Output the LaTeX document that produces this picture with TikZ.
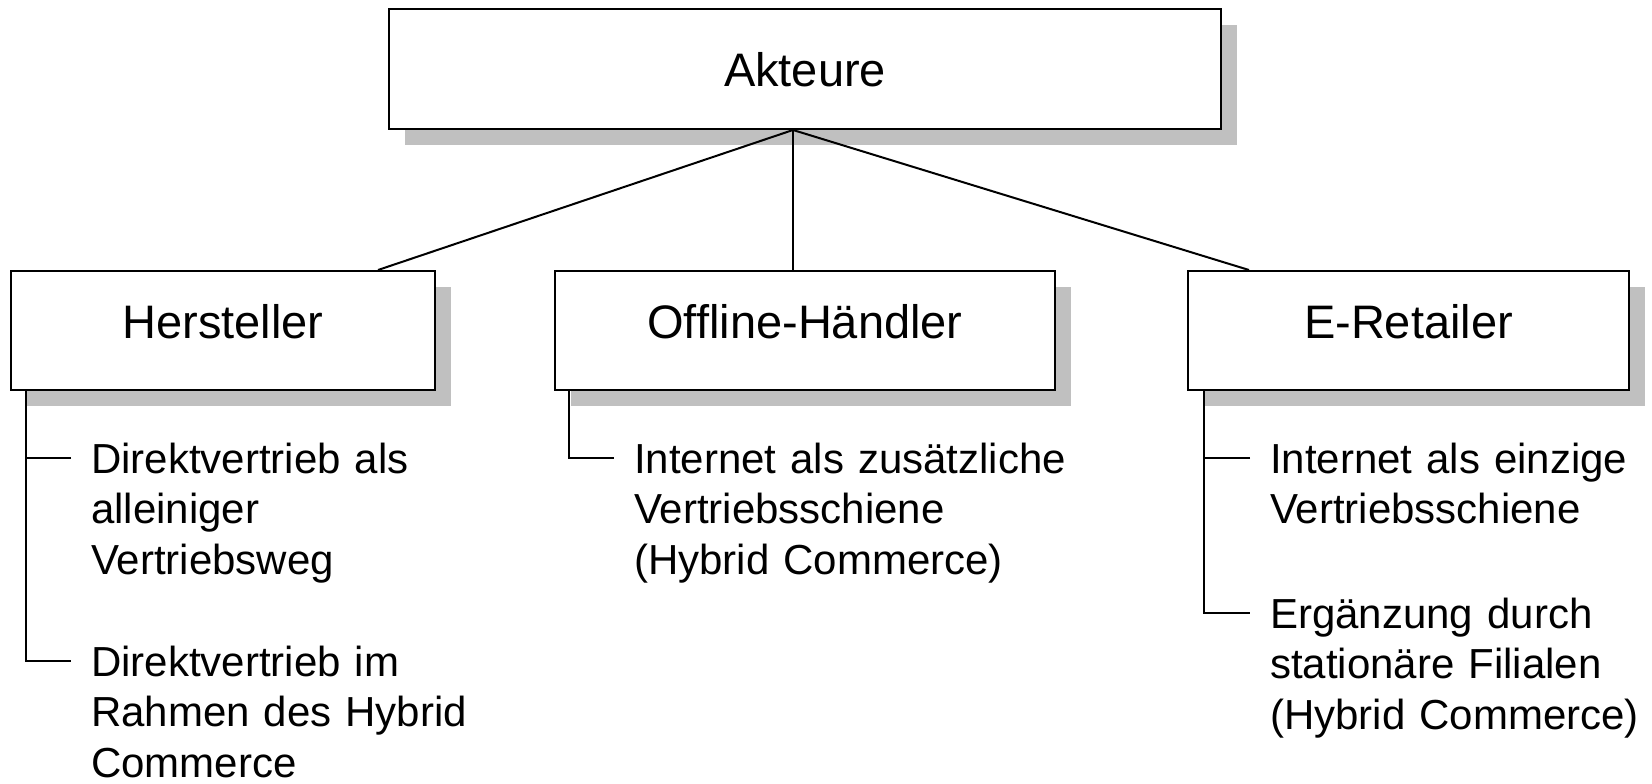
\documentclass[tikz,border=0pt]{standalone}
\usepackage{fontspec}
\setmainfont{Liberation Sans}
\usetikzlibrary{shadows,calc}
\definecolor{shadowgray}{HTML}{C0C0C0}
\begin{document}
\begin{tikzpicture}[x=1pt,y=-1pt,
  box/.style={draw=black, line width=2pt, fill=white, inner sep=0pt, anchor=north west,
    drop shadow={shadow xshift=16pt, shadow yshift=-16pt, fill=shadowgray, opacity=1, draw=none},
    font=\fontsize{47}{56}\selectfont},
  item/.style={inner sep=0pt, anchor=base west, align=left, text width=440pt,
    font=\fontsize{42}{50.5}\selectfont},
  conn/.style={line width=2pt},
  tickline/.style={line width=1.8pt}]
\useasboundingbox (0,0) rectangle (1652,784);

% boxes
\node[box, minimum width=832pt, minimum height=120pt, text height=78pt, text depth=42pt] (akt) at (388,8) {Akteure};
\node[box, minimum width=424pt, minimum height=119pt, text height=67pt, text depth=52pt] (her) at (10,270) {Hersteller};
\node[box, minimum width=500pt, minimum height=119pt, text height=67pt, text depth=52pt] (off) at (554,270) {Offline-Händler};
\node[box, minimum width=441pt, minimum height=119pt, text height=67pt, text depth=52pt] (ret) at (1187,270) {E-Retailer};

% items
\node[item] (h1) at (91,473) {Direktvertrieb als\\alleiniger\\Vertriebsweg};
\node[item] (h2) at (91,676) {Direktvertrieb im\\Rahmen des Hybrid\\Commerce};
\node[item] (o1) at (634,473) {Internet als zusätzliche\\Vertriebsschiene\\(Hybrid Commerce)};
\node[item] (r1) at (1270,473) {Internet als einzige\\Vertriebsschiene};
\node[item] (r2) at (1270,628) {Ergänzung durch\\stationäre Filialen\\(Hybrid Commerce)};

% connector x positions
\coordinate (ap) at (793,0);
\coordinate (hx) at (378,0);
\coordinate (rx) at (1249,0);
\coordinate (hv) at (26,0);
\coordinate (ov) at (569,0);
\coordinate (rv) at (1204,0);

\draw[conn] (akt.south -| ap) -- (her.north -| hx);
\draw[conn] (akt.south -| ap) -- (off.north -| ap);
\draw[conn] (akt.south -| ap) -- (ret.north -| rx);

% brackets
\draw[tickline] (her.south -| hv) |- ($(h2.base west)+(-20,-15)$);
\draw[tickline] ($(h1.base west)+(-20,-15)$) -- ($(h1.base west)+(-65,-15)$);
\draw[tickline] (off.south -| ov) |- ($(o1.base west)+(-20,-15)$);
\draw[tickline] (ret.south -| rv) |- ($(r2.base west)+(-20,-15)$);
\draw[tickline] ($(r1.base west)+(-20,-15)$) -- ($(r1.base west)+(-66,-15)$);
\end{tikzpicture}
\end{document}
